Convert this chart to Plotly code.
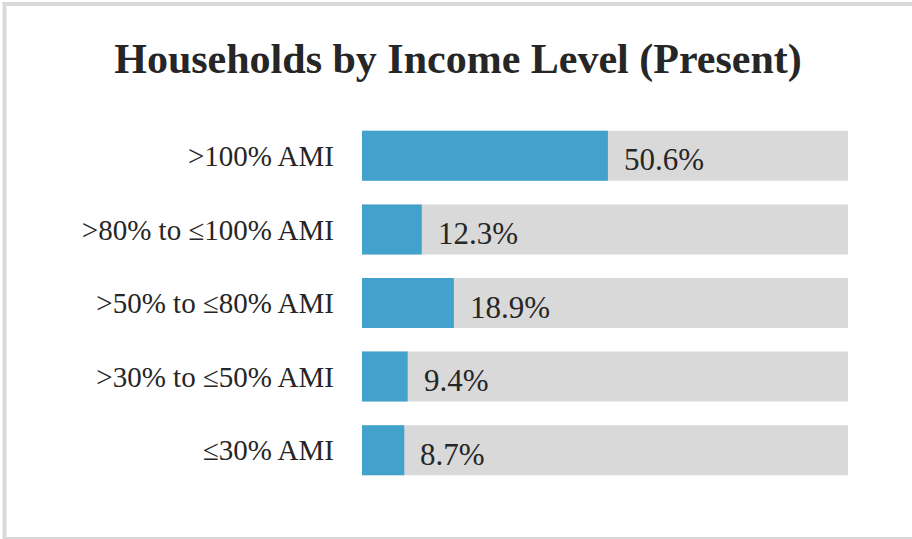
import plotly.graph_objects as go

categories = [">100% AMI", ">80% to ≤100% AMI", ">50% to ≤80% AMI", ">30% to ≤50% AMI", "≤30% AMI"]
values = [50.6, 12.3, 18.9, 9.4, 8.7]
totals = [100, 100, 100, 100, 100]
value_labels = ["50.6%", "12.3%", "18.9%", "9.4%", "8.7%"]

FONT = "Liberation Serif"
TEXT = "#262626"

fig = go.Figure()
fig.add_trace(go.Bar(y=categories, x=totals, orientation="h", marker=dict(color="#D9D9D9", line=dict(width=0)),
                     width=0.68, hoverinfo="skip", showlegend=False))
fig.add_trace(go.Bar(y=categories, x=values, orientation="h", marker=dict(color="#42A2CB", line=dict(width=0)),
                     width=0.68, showlegend=False))

for c, v, t in zip(categories, values, value_labels):
    fig.add_annotation(x=v, y=c, text=t, showarrow=False, xanchor="left", yanchor="middle",
                       xshift=14, yshift=-4, font=dict(family=FONT, size=31, color=TEXT))

# outer frame
W, H = 912, 539
L, R, T, B = 362, 64, 119, 52
pw, ph = W - L - R, H - T - B
def px(x): return (x - L) / pw
def py(y): return (H - B - y) / ph
fig.add_shape(type="rect", xref="paper", yref="paper", x0=px(4.5), x1=px(940), y0=py(4), y1=py(539),
              line=dict(color="#D9D9D9", width=4), fillcolor="rgba(0,0,0,0)", layer="below")

fig.update_layout(
    width=W, height=H,
    margin=dict(l=L, r=R, t=T, b=B),
    barmode="overlay",
    paper_bgcolor="white", plot_bgcolor="white",
    title=dict(text="<b>Households by Income Level (Present)</b>", x=458 / W, xref="container", xanchor="center",
               y=1 - 58 / H, yanchor="middle", font=dict(family=FONT, size=42, color=TEXT)),
    xaxis=dict(range=[0, 100], visible=False, fixedrange=True),
    yaxis=dict(categoryorder="array", categoryarray=categories[::-1], showgrid=False, zeroline=False,
               showline=False, ticks="", ticklabelstandoff=27, fixedrange=True,
               tickfont=dict(family=FONT, size=29, color=TEXT)),
)

fig.write_html("out.html", config={"displayModeBar": False},
               post_script="document.body.style.margin='0';document.body.style.overflow='hidden';")
